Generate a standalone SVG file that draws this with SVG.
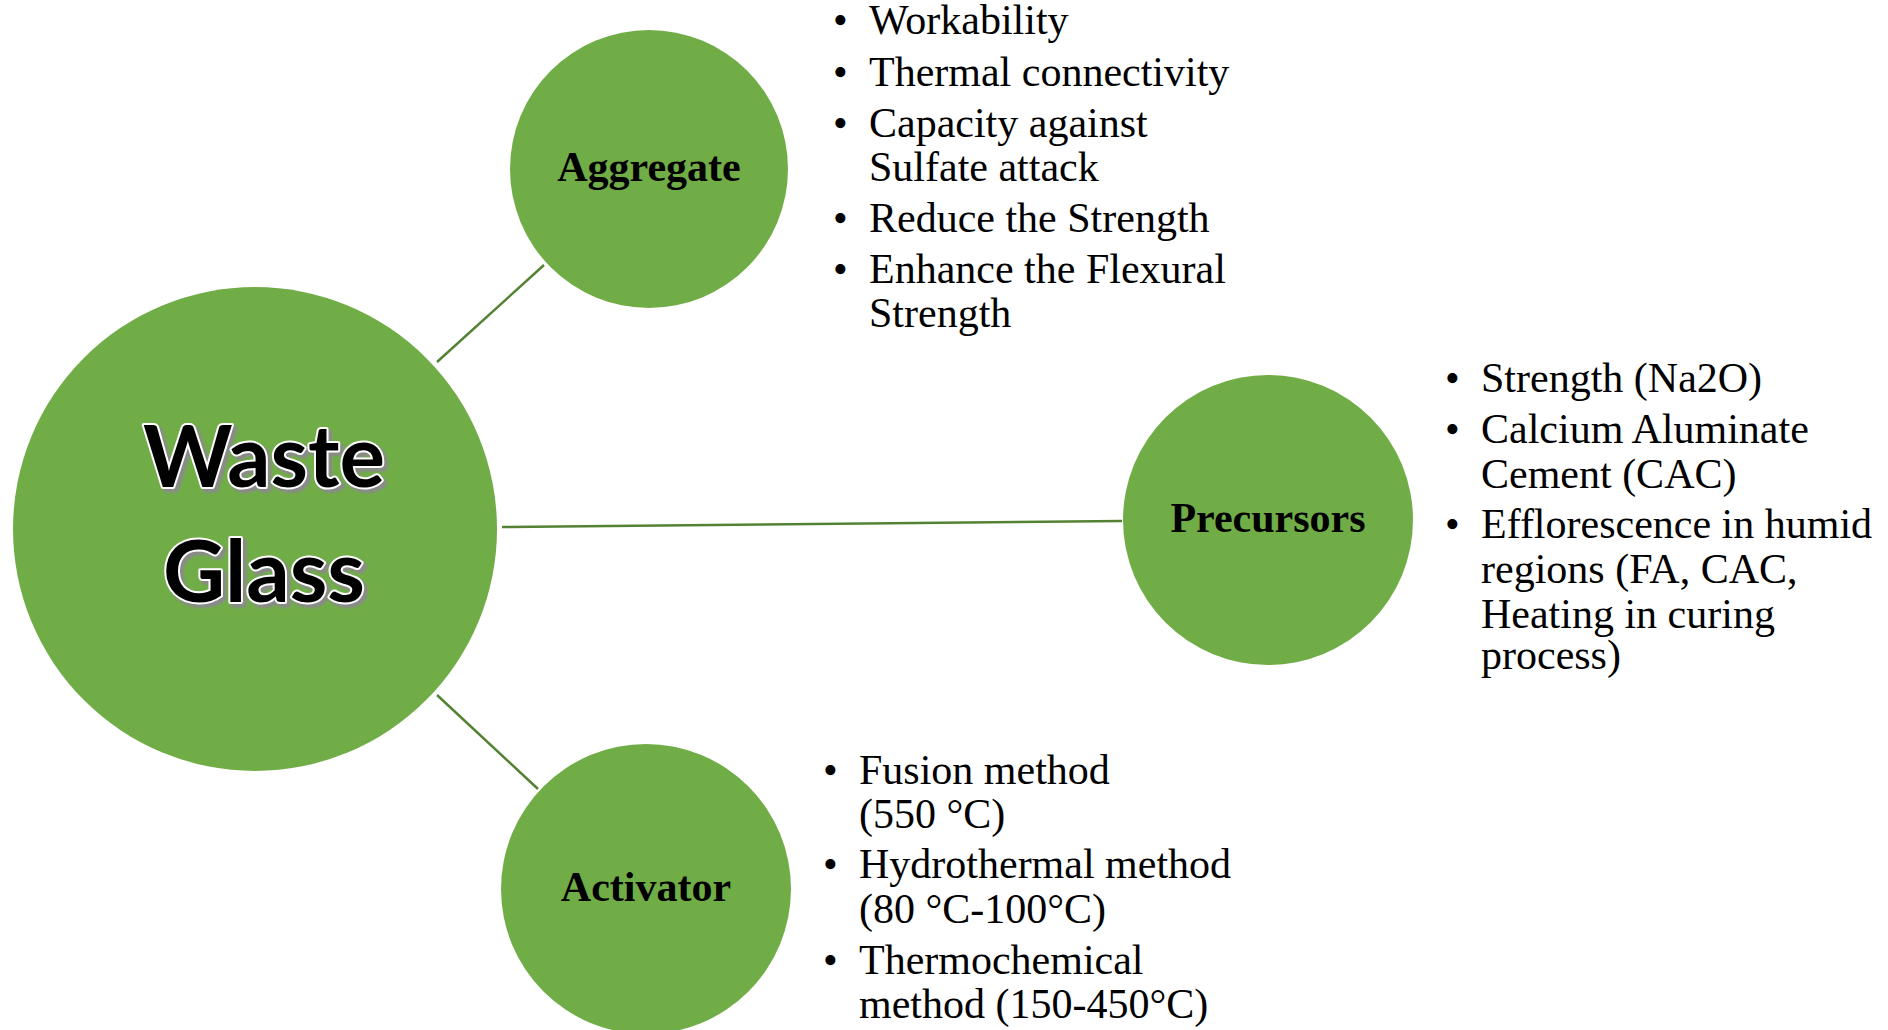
<svg xmlns="http://www.w3.org/2000/svg" width="1888" height="1030" viewBox="0 0 1888 1030">
<style>
.node{fill:#70AD47;}
.conn{stroke:#548235;stroke-width:2.5;fill:none;}
.lbl{font-family:"Liberation Serif","Times New Roman",serif;font-weight:bold;font-size:42px;fill:#000;text-anchor:middle;}
.item{font-family:"Liberation Serif","Times New Roman",serif;font-size:42px;fill:#000;}
.big{font-family:Lato,"Open Sans",sans-serif;font-weight:bold;font-size:86px;text-anchor:middle;}
.big-main{fill:#000;stroke:#fff;stroke-width:4;paint-order:stroke;stroke-linejoin:round;}
.big-shadow{fill:#8a8a8a;stroke:#8a8a8a;stroke-width:5;stroke-linejoin:round;}
</style>
<defs>
<filter id="blur" x="-10%" y="-10%" width="120%" height="120%"><feGaussianBlur stdDeviation="1.2"/></filter>
</defs>
<rect width="1888" height="1030" fill="#fff"/>
<g id="connectors">
<line class="conn" x1="437" y1="362" x2="544" y2="265"/>
<line class="conn" x1="502" y1="527" x2="1122" y2="521"/>
<line class="conn" x1="437" y1="695" x2="538" y2="789"/>
</g>
<g id="waste-glass">
<circle class="node" cx="255" cy="529" r="242"/>
<g filter="url(#blur)">
<text class="big big-shadow" x="267" y="490" textLength="242" lengthAdjust="spacingAndGlyphs">Waste</text>
<text class="big big-shadow" x="267" y="605" textLength="202" lengthAdjust="spacingAndGlyphs">Glass</text>
</g>
<text class="big big-main" x="264" y="487" textLength="242" lengthAdjust="spacingAndGlyphs">Waste</text>
<text class="big big-main" x="264" y="602" textLength="202" lengthAdjust="spacingAndGlyphs">Glass</text>
</g>
<g id="aggregate">
<circle class="node" cx="649" cy="169" r="139"/>
<text class="lbl" x="649" y="181">Aggregate</text>
</g>
<g id="aggregate-list">
<text class="item" x="833" y="34">•</text><text class="item" x="869" y="34">Workability</text>
<text class="item" x="833" y="86">•</text><text class="item" x="869" y="86">Thermal connectivity</text>
<text class="item" x="833" y="137">•</text><text class="item" x="869" y="137">Capacity against</text>
<text class="item" x="869" y="181">Sulfate attack</text>
<text class="item" x="833" y="232">•</text><text class="item" x="869" y="232">Reduce the Strength</text>
<text class="item" x="833" y="283">•</text><text class="item" x="869" y="283">Enhance the Flexural</text>
<text class="item" x="869" y="327">Strength</text>
</g>
<g id="precursors">
<circle class="node" cx="1268" cy="520" r="145"/>
<text class="lbl" x="1268" y="532">Precursors</text>
</g>
<g id="precursors-list">
<text class="item" x="1445" y="392">•</text><text class="item" x="1481" y="392">Strength (Na2O)</text>
<text class="item" x="1445" y="443">•</text><text class="item" x="1481" y="443">Calcium Aluminate</text>
<text class="item" x="1481" y="488">Cement (CAC)</text>
<text class="item" x="1445" y="538">•</text><text class="item" x="1481" y="538">Efflorescence in humid</text>
<text class="item" x="1481" y="583">regions (FA, CAC,</text>
<text class="item" x="1481" y="628">Heating in curing</text>
<text class="item" x="1481" y="669">process)</text>
</g>
<g id="activator">
<circle class="node" cx="646" cy="889" r="145"/>
<text class="lbl" x="646" y="901">Activator</text>
</g>
<g id="activator-list">
<text class="item" x="823" y="784">•</text><text class="item" x="859" y="784">Fusion method</text>
<text class="item" x="859" y="828">(550 °C)</text>
<text class="item" x="823" y="878">•</text><text class="item" x="859" y="878">Hydrothermal method</text>
<text class="item" x="859" y="923">(80 °C-100°C)</text>
<text class="item" x="823" y="974">•</text><text class="item" x="859" y="974">Thermochemical</text>
<text class="item" x="859" y="1018">method (150-450°C)</text>
</g>
</svg>
